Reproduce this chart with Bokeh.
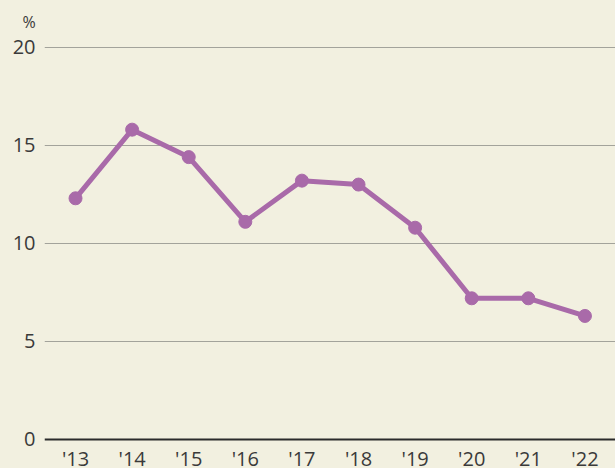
from bokeh.plotting import figure
from bokeh.models import Range1d, FixedTicker, Span, ColumnDataSource
from bokeh.core.properties import value
from bokeh.embed import file_html
from bokeh.resources import INLINE

years = ["'13", "'14", "'15", "'16", "'17", "'18", "'19", "'20", "'21", "'22"]
values = [12.3, 15.8, 14.4, 11.1, 13.2, 13.0, 10.8, 7.2, 7.2, 6.3]
y_ticks = [0, 5, 10, 15, 20]

BG = "#f2f0e0"
LINE = "#a96aa9"
FONT = "Open Sans"
TXT = "#3a3a3a"
LABEL_Y = -0.95  # data position of the year labels below the zero line

xs = list(range(len(years)))
src = ColumnDataSource(dict(x=xs, y=values, label=years, ly=[LABEL_Y] * len(xs)))

p = figure(width=615, height=468, output_backend="svg", toolbar_location=None,
           x_range=Range1d(-0.548, 9.54), y_range=Range1d(-1.48, 20.296),
           min_border_left=44, min_border_right=0, min_border_top=0, min_border_bottom=0,
           title="%")
p.background_fill_color = BG
p.border_fill_color = BG
p.outline_line_color = None

p.title.align = "left"
p.title.offset = -22
p.title.standoff = 17.4
p.title.text_font = FONT
p.title.text_font_size = "16px"
p.title.text_font_style = "normal"
p.title.text_color = TXT

p.ygrid.grid_line_color = "#a3a39b"
p.ygrid.grid_line_width = 1
p.ygrid.ticker = FixedTicker(ticks=y_ticks[1:])
p.xgrid.grid_line_color = None

p.add_layout(Span(location=0, dimension="width", line_color="#2b2b2b", line_width=2))

p.line("x", "y", source=src, line_color=LINE, line_width=5)
p.scatter("x", "y", source=src, size=13, fill_color=LINE, line_color=LINE)

p.text("x", "ly", text="label", source=src, text_align="center", text_baseline="middle",
       text_font=value(FONT), text_font_size="20px", text_color=TXT)

p.xaxis.visible = False

ax = p.yaxis[0]
ax.ticker = FixedTicker(ticks=y_ticks)
ax.axis_line_color = None
ax.major_tick_line_color = None
ax.minor_tick_line_color = None
ax.major_tick_out = 0
ax.major_tick_in = 0
ax.minor_tick_out = 0
ax.minor_tick_in = 0
ax.major_label_standoff = 9
ax.major_label_text_font = FONT
ax.major_label_text_font_size = "20px"
ax.major_label_text_color = TXT

html = file_html(p, INLINE)
html = html.replace("<head>", "<head><style>html,body{background:%s;}</style>" % BG, 1)
open("out.html", "w").write(html)
